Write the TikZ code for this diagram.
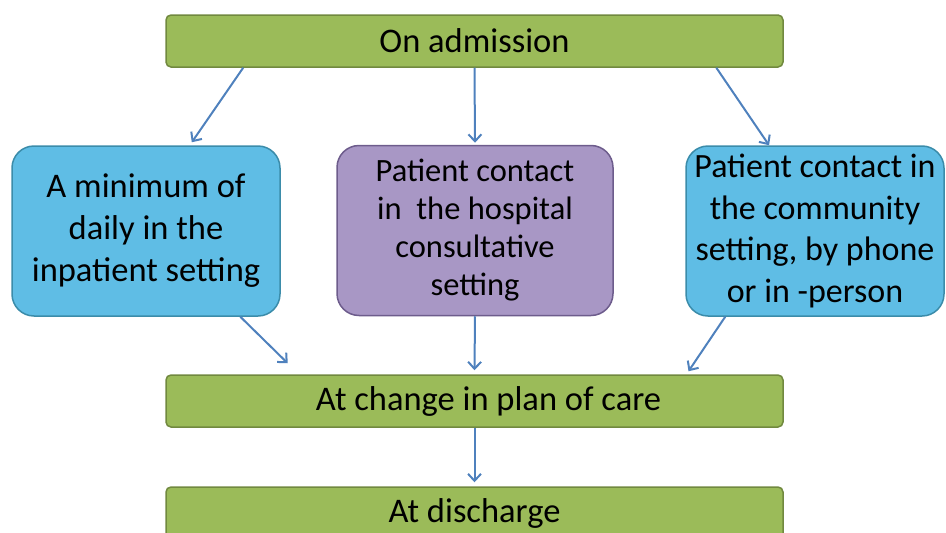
\documentclass[tikz,border=0pt]{standalone}
\usepackage{fontspec}
\setmainfont{Carlito}
\usepackage{xcolor}
\usepackage{tikz}
\usetikzlibrary{positioning, arrows.meta, calc}

\definecolor{stepgreen}{HTML}{9BBB59}
\definecolor{stepgreenline}{HTML}{71893F}
\definecolor{setblue}{HTML}{5FBDE5}
\definecolor{setblueline}{HTML}{3B8CAA}
\definecolor{setpurple}{HTML}{A897C5}
\definecolor{setpurpleline}{HTML}{6D5C8C}
\definecolor{arrowblue}{HTML}{4F81BD}

\begin{document}
\begin{tikzpicture}[x=1pt, y=-1pt,
    stagebox/.style={draw=stepgreenline, fill=stepgreen, line width=1.5pt, rounded corners=5pt,
        minimum width=617pt, minimum height=52pt, inner sep=0pt,
        font=\fontsize{34.5}{40}\selectfont},
    settingbox/.style={line width=1.5pt, rounded corners=22pt, inner sep=0pt,
        minimum height=170pt, align=center},
    arr/.style={arrowblue, line width=2pt, -{Straight Barb[length=7pt, width=13pt]}}]
    \useasboundingbox (0,0) rectangle (946,533);
    \clip (0,0) rectangle (946,533);

    % Stages
    \node[stagebox] (adm) at (474.5,41) {On admission};
    \node[stagebox] (chg) at (474.5,401) {\hspace*{28pt}At change in plan of care};
    \node[stagebox] (dis) at (474.5,513) {At discharge};

    % Settings
    \node[settingbox, draw=setblueline, fill=setblue, minimum width=268pt,
        font=\fontsize{34.5}{42}\selectfont] (inpat) at (146,231)
        {A minimum of\\daily in the\\inpatient setting};
    \node[settingbox, draw=setpurpleline, fill=setpurple, minimum width=276pt,
        font=\fontsize{32.5}{38}\selectfont] (hosp) at (475,230.5)
        {Patient contact\\in~ the hospital\\consultative\\setting};
    \node[settingbox, draw=setblueline, fill=setblue, minimum width=258pt,
        font=\fontsize{34}{41.5}\selectfont] (comm) at (815,231)
        {Patient contact in\\the community\\setting, by phone\\or in -person};

    % Arrows
    \draw[arr] ($(adm.south west)!0.126!(adm.south east)$) -- ($(inpat.north west)!0.67!(inpat.north east)+(0,-3)$);
    \draw[arr] (adm.south) -- ($(hosp.north)+(0,-2)$);
    \draw[arr] ($(adm.south west)!0.891!(adm.south east)$) -- ($(comm.north west)!0.323!(comm.north east)$);
    \draw[arr] ($(inpat.south west)!0.85!(inpat.south east)$) -- ($(chg.north west)!0.198!(chg.north east)+(0,-11)$);
    \draw[arr] (hosp.south) -- ($(chg.north)+(0,-4)$);
    \draw[arr] ($(comm.south west)!0.154!(comm.south east)$) -- ($(chg.north west)!0.846!(chg.north east)+(0,-3)$);
    \draw[arr] (chg.south) -- ($(dis.north)+(0,-4)$);

\end{tikzpicture}
\end{document}
